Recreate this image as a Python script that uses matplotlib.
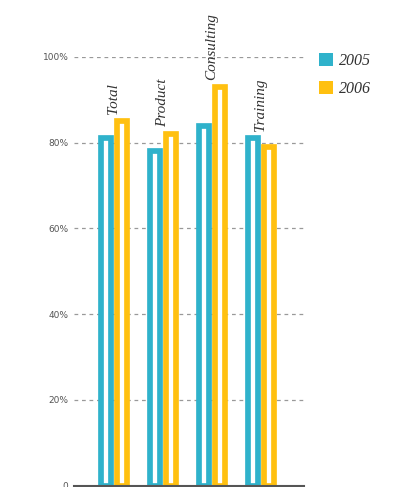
import numpy as np
import matplotlib.pyplot as plt
from matplotlib.patches import Patch

categories = ['Total', 'Product', 'Consulting', 'Training']
series_names = ['2005', '2006']
values_2005 = [81, 78, 84, 81]
values_2006 = [85, 82, 93, 79]
ytick_values = [0, 20, 40, 60, 80, 100]
ytick_labels = ['0', '20%', '40%', '60%', '80%', '100%']

c2005 = '#2FB2CB'
c2006 = '#FFC010'

fig = plt.figure(figsize=(4.06, 4.87), dpi=100)
ax = fig.add_axes([74 / 406, 1.5 / 487, 230 / 406, 428.5 / 487])

x = np.arange(len(categories))
bw = 0.21
lw = 4.1

ax.bar(x - 0.165, values_2005, width=bw, facecolor='white', edgecolor=c2005,
       linewidth=lw, zorder=3)
ax.bar(x + 0.165, values_2006, width=bw, facecolor='white', edgecolor=c2006,
       linewidth=lw, zorder=3)

# category names stand above each pair
for xi, name, a, b in zip(x, categories, values_2005, values_2006):
    ax.text(xi, max(a, b) + 1.7, name, rotation=90, ha='center', va='bottom',
            fontsize=11, family='Liberation Serif', style='italic',
            color='#333333', clip_on=False)

ax.set_xlim(-0.816, 3.878)
ax.set_ylim(0, 100)
ax.set_xticks([])
ax.set_yticks(ytick_values)
ax.set_yticklabels(ytick_labels, fontsize=6.5, color='#555555',
                   family=['Liberation Sans Narrow', 'DejaVu Sans'])
ax.tick_params(axis='y', length=0, pad=4)

for v in ytick_values[1:]:
    ax.axhline(v, color='#999999', linestyle=(0, (3, 3)), linewidth=0.9, zorder=1)

for side in ['top', 'right', 'left']:
    ax.spines[side].set_visible(False)
ax.spines['bottom'].set_color('#555555')
ax.spines['bottom'].set_linewidth(1.5)
ax.spines['bottom'].set_zorder(4)

handles = [Patch(facecolor=c2005, edgecolor='none'),
           Patch(facecolor=c2006, edgecolor='none')]
fig.legend(handles, series_names, loc='upper left', bbox_to_anchor=(305 / 406, 1 - 39 / 487),
           frameon=False, handlelength=0.85, handleheight=0.85, handletextpad=0.35,
           labelspacing=0.75, prop={'family': 'Liberation Serif', 'style': 'italic', 'size': 11.5},
           labelcolor='#333333')

fig.savefig('out.png', dpi=100)
